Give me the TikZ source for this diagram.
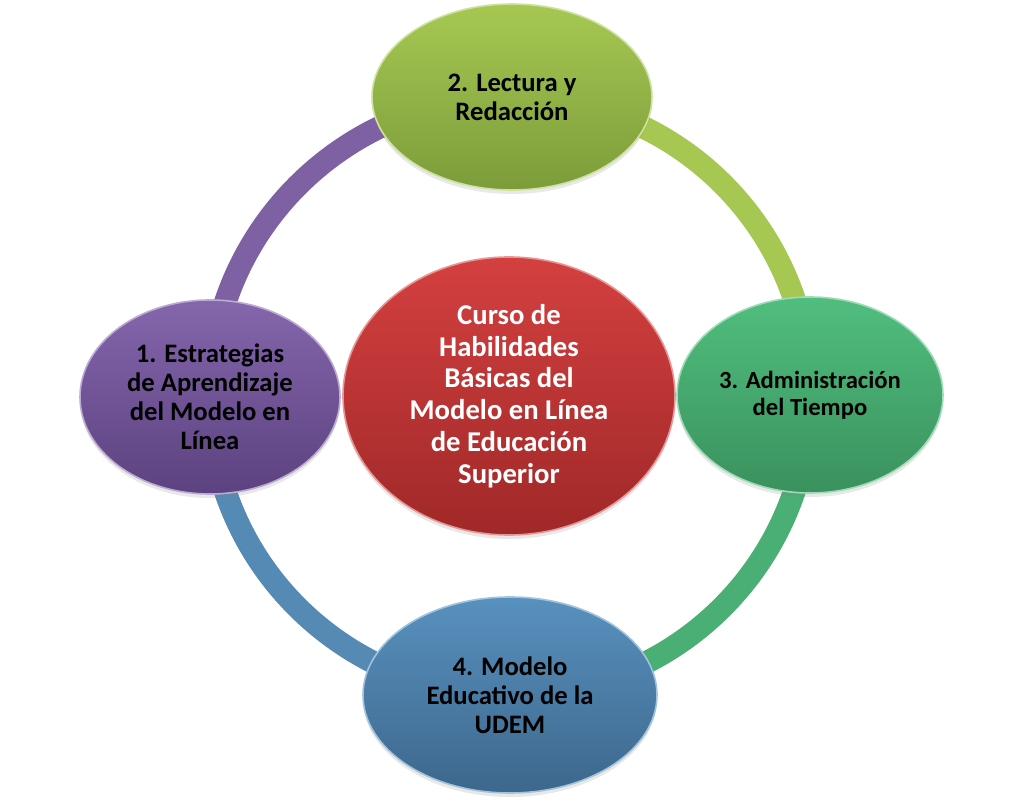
\documentclass[tikz,border=0pt]{standalone}
\usepackage{fontspec}
\setmainfont{Carlito}
\usepackage{tikz}
\usetikzlibrary{shapes.geometric,backgrounds,shadows}
\definecolor{purpleTop}{HTML}{8466AC}
\definecolor{purpleBot}{HTML}{5C4280}
\definecolor{limeTop}{HTML}{A6C852}
\definecolor{limeBot}{HTML}{7C9C3A}
\definecolor{greenTop}{HTML}{50BE7E}
\definecolor{greenBot}{HTML}{3A915D}
\definecolor{blueTop}{HTML}{5891BE}
\definecolor{blueBot}{HTML}{3D678C}
\definecolor{redTop}{HTML}{D44040}
\definecolor{redBot}{HTML}{A02828}
\tikzset{
  cycle-node/.style={ellipse, inner sep=0pt, align=center, text=black,
    font=\fontsize{20}{21.8}\selectfont\bfseries, line width=1.2pt,
    drop shadow={opacity=0.18, shadow xshift=0pt, shadow yshift=-3pt}},
  cycle-hub/.style={cycle-node, text=white, font=\fontsize{21.5}{23.8}\selectfont\bfseries},
  cycle-link/.style={line width=17pt}
}

\begin{document}
\begin{tikzpicture}[x=0.75pt, y=0.75pt]
  \useasboundingbox (0,0) rectangle (1022,-805);

  % Four topics round the ring
  \node[cycle-node, top color=limeTop, bottom color=limeBot, draw=limeTop!55!white,
    minimum width=210pt, minimum height=139.5pt] (lectura) at (512,-97) {2. Lectura y\\Redacción};
  \node[cycle-node, top color=purpleTop, bottom color=purpleBot, draw=purpleTop!55!white,
    minimum width=195pt, minimum height=145.5pt] (estrategias) at (210,-397) {1. Estrategias\\de Aprendizaje\\del Modelo en\\Línea};
  \node[cycle-node, top color=greenTop, bottom color=greenBot, draw=greenTop!55!white,
    font=\fontsize{18.5}{20}\selectfont\bfseries,
    minimum width=199.5pt, minimum height=147pt] (tiempo) at (810,-395) {3. Administración\\del Tiempo};
  \node[cycle-node, top color=blueTop, bottom color=blueBot, draw=blueTop!55!white,
    minimum width=220.5pt, minimum height=147pt] (modelo) at (510,-695) {4. Modelo\\Educativo de la\\UDEM};

  % Course in the middle
  \node[cycle-hub, top color=redTop, bottom color=redBot, draw=redTop!55!white,
    minimum width=249pt, minimum height=208.5pt] (curso) at (509,-396)
    {Curso de\\Habilidades\\Básicas del\\Modelo en Línea\\de Educación\\Superior};

  % Ring segments behind the topics
  \begin{scope}[on background layer]
    \draw[cycle-link, draw=purpleTop!95!black] (estrategias.center) to[out=90, in=180] (lectura.center);
    \draw[cycle-link, draw=limeTop] (lectura.center) to[out=0, in=90] (tiempo.center);
    \draw[cycle-link, draw=greenTop!92!black] (tiempo.center) to[out=-90, in=0] (modelo.center);
    \draw[cycle-link, draw=blueTop!95!black] (modelo.center) to[out=180, in=-90] (estrategias.center);
  \end{scope}
\end{tikzpicture}
\end{document}
